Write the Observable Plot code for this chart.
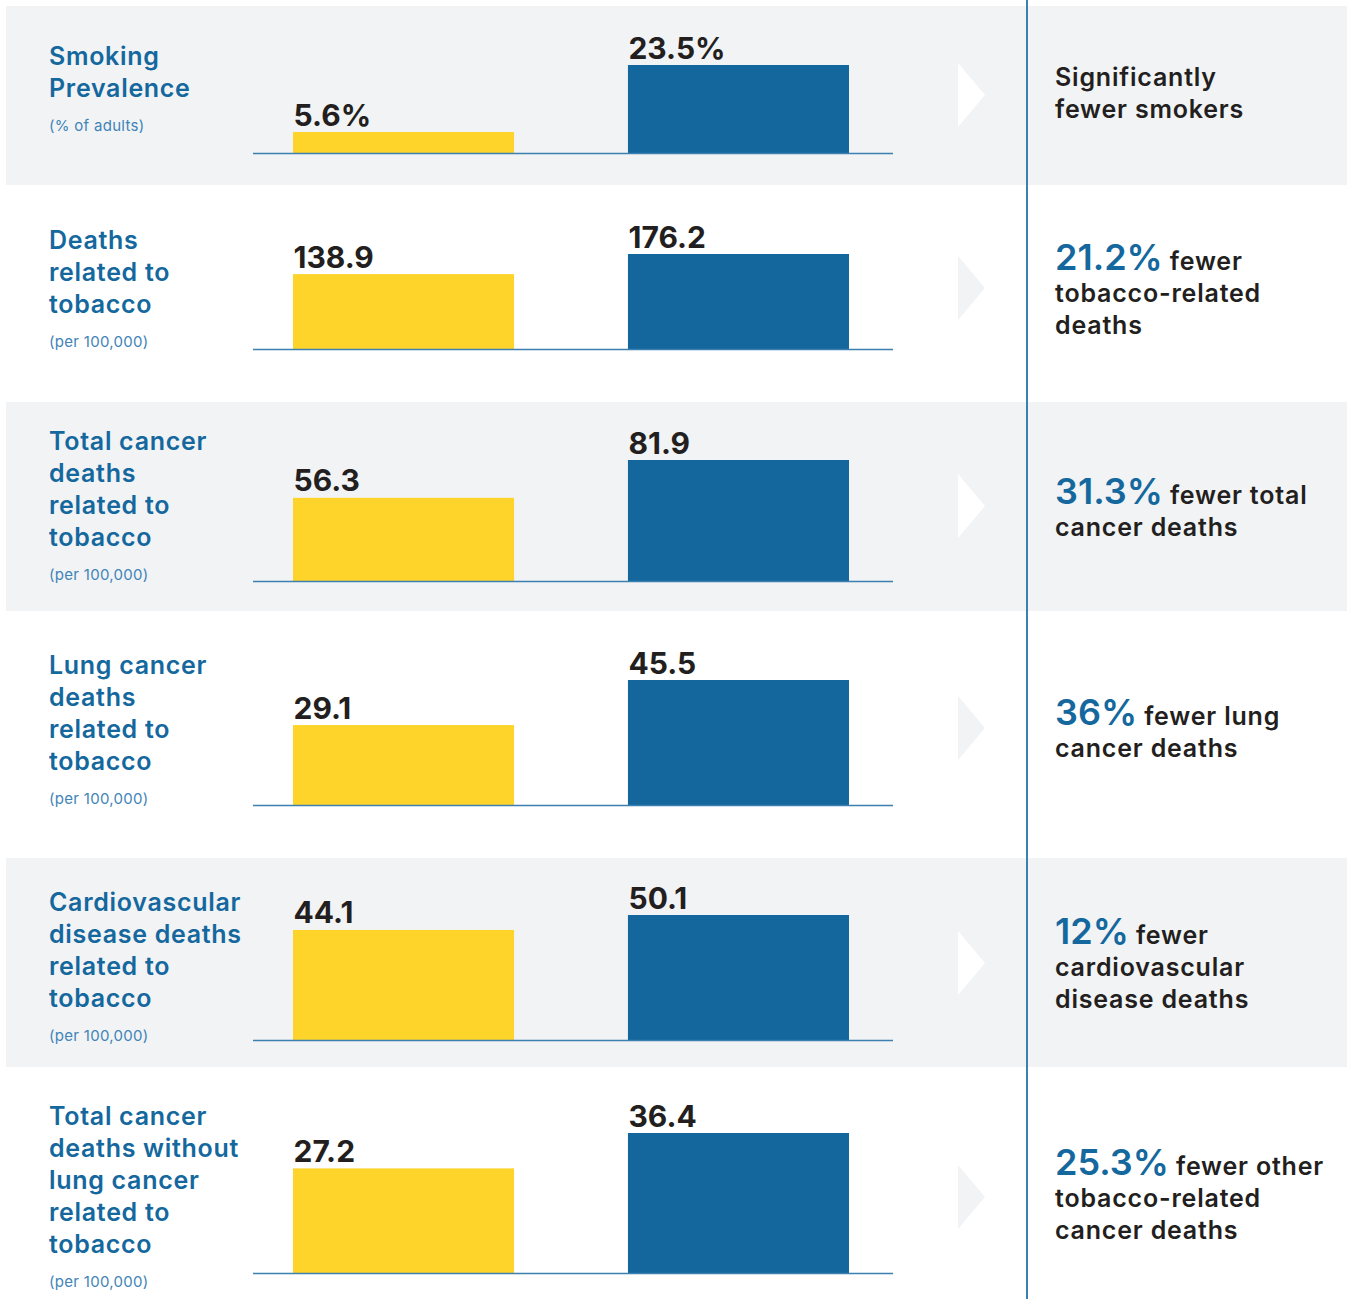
<!DOCTYPE html>
<html>
<head>
<meta charset="utf-8">
<script src="https://cdn.jsdelivr.net/npm/d3@7"></script>
<script src="https://cdn.jsdelivr.net/npm/@observablehq/plot@0.6"></script>
<style>
  html, body { margin: 0; padding: 0; background: #ffffff; }
  #root { position: relative; width: 1349px; height: 1299px; overflow: hidden; font-family: Inter, "Noto Sans", sans-serif; }
  .rowbg { position: absolute; left: 6px; width: 1341px; background: #f2f3f5; }
  .vline { position: absolute; left: 1026px; top: 0; width: 2px; height: 1299px; background: #3c80b2; }
  .chev { position: absolute; left: 958px; width: 27px; height: 64px; clip-path: polygon(0 0, 100% 50%, 0 100%); }
  .label { position: absolute; left: 49px; color: #14689e; font-weight: 600; font-size: 25px; line-height: 32px; letter-spacing: 0.7px; white-space: nowrap; }
  .label .sub { margin-top: 11.5px; font-weight: 400; font-size: 15px; line-height: 20px; color: #3f84b8; letter-spacing: 0.3px; }
  .summary { position: absolute; left: 1055px; color: #231f20; font-weight: 600; font-size: 25px; line-height: 32px; letter-spacing: 0.8px; white-space: nowrap; }
  .summary .big { color: #14689e; font-size: 36px; line-height: 32px; letter-spacing: 0; font-weight: 600; }
</style>
</head>
<body>
<div id="root"></div>
<script>
// ---- data ----
const categories = [
  "Smoking Prevalence",
  "Deaths related to tobacco",
  "Total cancer deaths related to tobacco",
  "Lung cancer deaths related to tobacco",
  "Cardiovascular disease deaths related to tobacco",
  "Total cancer deaths without lung cancer related to tobacco"
];
const titleLines = [
  ["Smoking", "Prevalence"],
  ["Deaths", "related to", "tobacco"],
  ["Total cancer", "deaths", "related to", "tobacco"],
  ["Lung cancer", "deaths", "related to", "tobacco"],
  ["Cardiovascular", "disease deaths", "related to", "tobacco"],
  ["Total cancer", "deaths without", "lung cancer", "related to", "tobacco"]
];
const unitNotes = ["(% of adults)", "(per 100,000)", "(per 100,000)", "(per 100,000)", "(per 100,000)", "(per 100,000)"];
const groups = ["first", "second"];
const yellowValues = [5.6, 138.9, 56.3, 29.1, 44.1, 27.2];
const blueValues = [23.5, 176.2, 81.9, 45.5, 50.1, 36.4];
const valueSuffix = ["%", "", "", "", "", ""];
const highlights = ["", "21.2%", "31.3%", "36%", "12%", "25.3%"];
const summaryLines = [
  ["Significantly", "fewer smokers"],
  ["fewer", "tobacco-related", "deaths"],
  ["fewer total", "cancer deaths"],
  ["fewer lung", "cancer deaths"],
  ["fewer", "cardiovascular", "disease deaths"],
  ["fewer other", "tobacco-related", "cancer deaths"]
];

// ---- layout (pixels) ----
const rowTops = [6, 185, 402, 611, 858, 1067];
const rowBottoms = [185, 402, 611, 858, 1067, 1299];
const rowShaded = [true, false, true, false, true, false];
const baselines = [153, 349, 581, 805, 1040, 1273];
const blueBarPx = [88, 95, 121, 125, 125, 140];
const labelBaselines = [65, 249, 450, 674, 911, 1125];
const summaryBaselines = [86, 270, 504, 725, 944, 1175];
const chevronCenters = [95, 288, 506, 728, 963, 1197];

const barColors = ["#fed42b", "#14679d"];
const root = document.getElementById("root");

function el(tag, cls, styles) {
  const e = document.createElement(tag);
  if (cls) e.className = cls;
  Object.assign(e.style, styles || {});
  return e;
}

categories.forEach((cat, i) => {
  if (rowShaded[i]) {
    root.appendChild(el("div", "rowbg", {top: rowTops[i] + "px", height: (rowBottoms[i] - rowTops[i]) + "px"}));
  }
  // chevron
  root.appendChild(el("div", "chev", {
    top: (chevronCenters[i] - 32) + "px",
    background: rowShaded[i] ? "#ffffff" : "#f2f3f5"
  }));
  // left label
  const lab = el("div", "label", {top: (labelBaselines[i] - 25) + "px"});
  lab.setAttribute("aria-label", cat);
  titleLines[i].forEach(t => { const d = el("div"); d.textContent = t; lab.appendChild(d); });
  const sub = el("div", "sub"); sub.textContent = unitNotes[i]; lab.appendChild(sub);
  root.appendChild(lab);
  // right summary
  const hasBig = highlights[i] !== "";
  const sm = el("div", "summary", {top: (summaryBaselines[i] - (hasBig ? 29 : 25)) + "px"});
  summaryLines[i].forEach((t, j) => {
    const d = el("div");
    if (j === 0 && hasBig) {
      const b = el("span", "big"); b.textContent = highlights[i];
      d.appendChild(b);
      d.appendChild(document.createTextNode(" " + t));
    } else {
      d.textContent = t;
    }
    sm.appendChild(d);
  });
  root.appendChild(sm);

  // bars via Plot
  const data = [
    {group: groups[0], value: yellowValues[i], label: yellowValues[i] + valueSuffix[i]},
    {group: groups[1], value: blueValues[i], label: blueValues[i] + valueSuffix[i]}
  ];
  const innerH = baselines[i] - rowTops[i];
  const k = blueBarPx[i] / blueValues[i];
  const bandW = 221;
  const chart = Plot.plot({
    width: 640,
    height: innerH + 2,
    marginTop: 0, marginBottom: 2, marginLeft: 0, marginRight: 0,
    style: {background: "transparent", overflow: "visible"},
    x: {type: "band", domain: groups, range: [40, 596], paddingInner: 0.34, paddingOuter: 0, round: false, axis: null},
    y: {domain: [0, innerH / k], axis: null},
    color: {type: "ordinal", domain: groups, range: barColors},
    marks: [
      Plot.barY(data, {x: "group", y: "value", fill: "group"}),
      Plot.text(data, {x: "group", y: "value", text: "label", textAnchor: "start", lineAnchor: "bottom",
        dx: -bandW / 2, dy: -7, fontSize: 30, fontWeight: 700, fill: "#231f20",
        fontFamily: "Inter, 'Noto Sans', sans-serif"}),
      Plot.ruleY([0], {stroke: "#3c80b2", strokeWidth: 1.5})
    ]
  });
  chart.style.position = "absolute";
  chart.style.top = rowTops[i] + "px";
  chart.style.left = "253px";
  root.appendChild(chart);
});

root.appendChild(el("div", "vline"));
</script>
</body>
</html>
